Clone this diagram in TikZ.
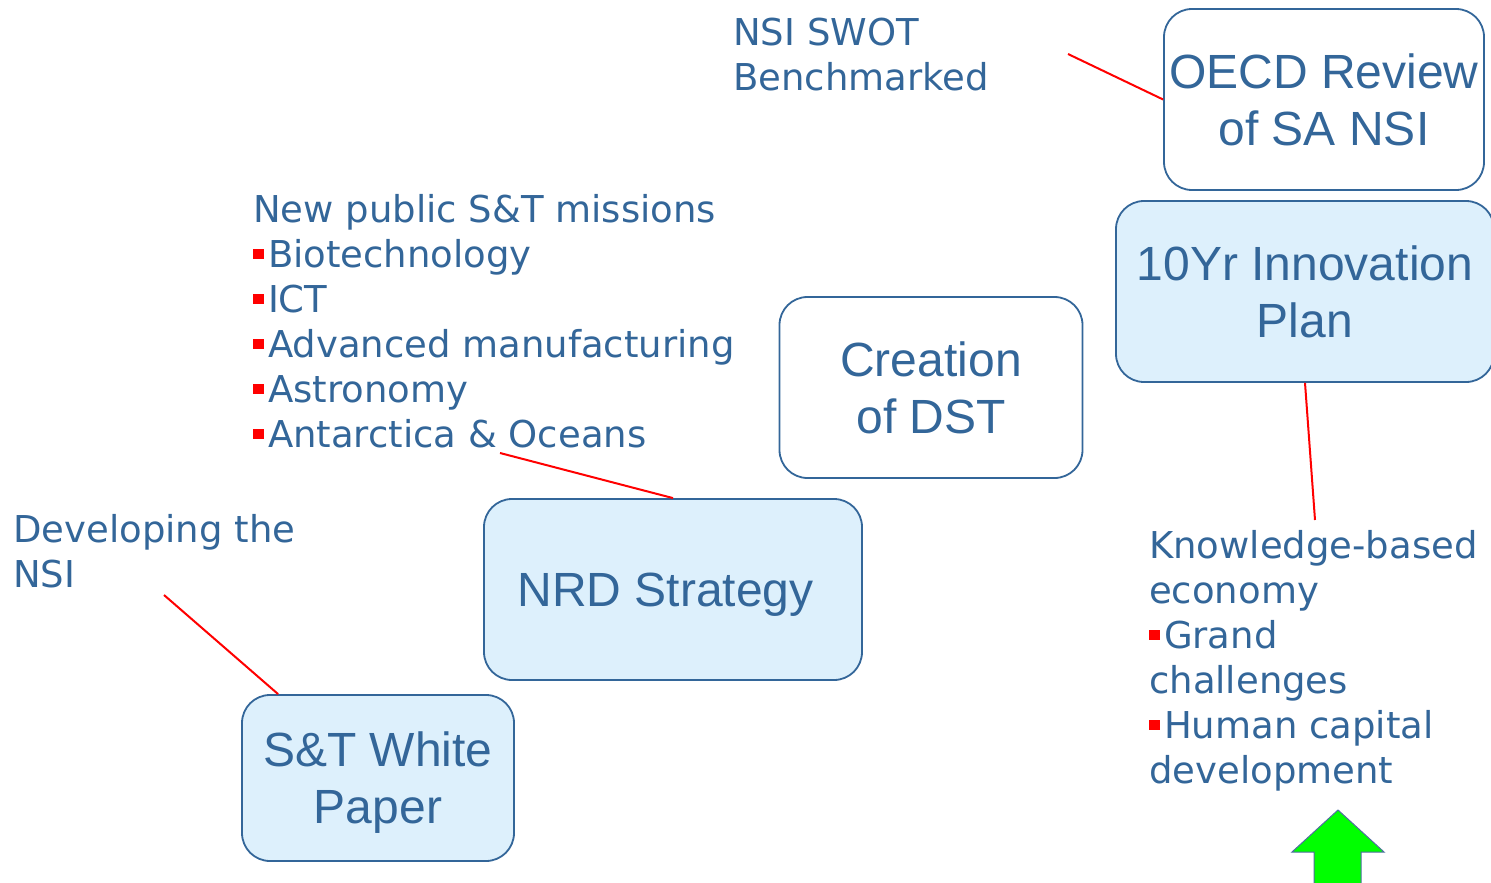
\documentclass[tikz,border=0pt]{standalone}
\usepackage{fontspec}
\setmainfont{Liberation Sans}
\newfontfamily\annfont{DejaVu Sans}
\usetikzlibrary{calc}
\definecolor{txtblue}{RGB}{51,102,153}
\definecolor{boxfill}{RGB}{221,240,252}
\definecolor{arrowline}{RGB}{79,110,160}
\definecolor{arrowgreen}{RGB}{0,255,0}
\newcommand{\bul}{\textcolor{red}{\rule[0.22em]{0.28em}{0.28em}}\hspace{0.12em}}
\begin{document}
\begin{tikzpicture}[x=1pt,y=-1pt,
  box/.style={draw=txtblue, line width=1.8pt, rounded corners=28pt, align=center,
    text=txtblue, font=\fontsize{48}{57}\selectfont, inner sep=0pt, text depth=0pt},
  filledbox/.style={box, fill=boxfill},
  plainbox/.style={box, fill=white},
  ann/.style={text=txtblue, align=left, font=\annfont\fontsize{37}{45}\selectfont,
    inner sep=0pt, anchor=base west},
  link/.style={draw=red, line width=2pt}]
\useasboundingbox (0,0) rectangle (1491,883);
\clip (0,0) rectangle (1491,883);
% boxes
\node[plainbox, minimum width=320, minimum height=181] (oecd) at (1324,99.5) {OECD Review\\of SA NSI};
\node[filledbox, minimum width=378, minimum height=181] (tenyr) at (1305,291.5) {10Yr Innovation\\Plan};
\node[plainbox, minimum width=303, minimum height=181] (dst) at (931,387.5) {Creation\\of DST};
\node[filledbox, minimum width=378, minimum height=181] (nrd) at (673,589.5) {NRD Strategy\hspace*{15pt}};
\node[filledbox, minimum width=272, minimum height=166] (stw) at (378,778) {S\&T White\\Paper};
% annotations (anchored at the baseline of the last line)
\node[ann] (swot) at (733,91) {NSI SWOT\\Benchmarked};
\node[ann] (missions) at (253,447) {New public S\&T missions\\\bul Biotechnology\\\bul ICT\\\bul Advanced manufacturing\\\bul Astronomy\\\bul Antarctica \& Oceans};
\node[ann] (devnsi) at (13,587) {Developing the\\NSI};
\node[ann] (kbe) at (1149,783) {Knowledge-based\\economy\\\bul Grand\\challenges\\\bul Human capital\\development};
% connectors
\coordinate (swotend) at (1068,54);
\coordinate (missend) at (500,453);
\coordinate (devend) at (164,595);
\coordinate (kbetop) at (1315,520);
\draw[link] (swotend) -- (oecd.west);
\draw[link] (missend) -- (nrd.north);
\draw[link] (devend) -- ($(stw.north west)+(37,0)$);
\draw[link] (tenyr.south) -- (kbetop);
% green arrow
\filldraw[fill=arrowgreen, draw=arrowline, line width=1pt]
  (1338,810) -- (1384,852) -- (1361,852) -- (1361,890) -- (1314,890) -- (1314,852) -- (1292,852) -- cycle;
\end{tikzpicture}
\end{document}
